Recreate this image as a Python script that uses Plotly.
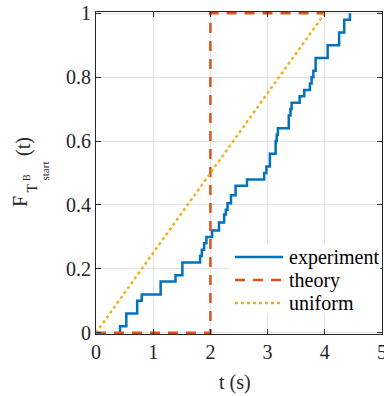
import plotly.graph_objects as go

# experiment empirical CDF (step points: time, cumulative value after step)
exp_t = [0.42, 0.42, 0.53, 0.72, 0.80, 1.13, 1.39, 1.51, 1.82, 1.85, 1.89, 1.93,
         2.03, 2.15, 2.24, 2.27, 2.30, 2.36, 2.44, 2.64, 2.94, 2.98, 3.04, 3.14,
         3.16, 3.18, 3.37, 3.40, 3.42, 3.56, 3.64, 3.74, 3.77, 3.80, 3.84, 4.05,
         4.25, 4.34, 4.44]
exp_F = [0.0, 0.02, 0.06, 0.10, 0.12, 0.16, 0.18, 0.22, 0.24, 0.26, 0.28, 0.30,
         0.32, 0.345, 0.37, 0.385, 0.405, 0.43, 0.46, 0.48, 0.50, 0.52, 0.56, 0.60,
         0.62, 0.64, 0.68, 0.70, 0.72, 0.74, 0.76, 0.78, 0.80, 0.82, 0.86, 0.90,
         0.94, 0.98, 1.00]

theory_t = [0, 2, 2, 4]
theory_F = [0, 0, 1, 1]

uniform_t = [0, 4]
uniform_F = [0, 1]

x_ticks = [0, 1, 2, 3, 4, 5]
y_ticks = [0, 0.2, 0.4, 0.6, 0.8, 1]
y_tick_labels = ["0", "0.2", "0.4", "0.6", "0.8", "1"]

series_names = ["experiment", "theory", "uniform"]
series_colors = ["#0072BD", "#D95319", "#EDB120"]
series_dash = ["solid", "10px,8px", "dot"]

FONT = "Liberation Serif, Times New Roman, serif"
AX = "#262626"

W, H = 384, 396
L, R, T, B = 96, 2, 12, 62
pw, ph = W - L - R, H - T - B


def px(xp):
    return (xp - L) / pw


def py(yp):
    return (H - B - yp) / ph


fig = go.Figure()
data = [(exp_t, exp_F, "hv"), (theory_t, theory_F, "linear"), (uniform_t, uniform_F, "linear")]
for (xs, ys, shape), name, col, dash in zip(data, series_names, series_colors, series_dash):
    fig.add_trace(go.Scatter(x=xs, y=ys, mode="lines", line_shape=shape,
                             line=dict(color=col, width=2.5, dash=dash), name=name,
                             showlegend=False))

axis_common = dict(showline=True, linecolor=AX, linewidth=1, mirror="ticks",
                   ticks="inside", ticklen=5, tickcolor=AX, showgrid=True,
                   gridcolor="#e2e2e2", gridwidth=1, zeroline=False,
                   ticklabeloverflow="allow", automargin=False,
                   tickfont=dict(family=FONT, size=20, color=AX))

fig.update_xaxes(range=[0, 5], tickvals=x_ticks, **axis_common)
fig.update_yaxes(range=[-0.004, 1.004], tickvals=y_ticks, ticktext=y_tick_labels,
                 **axis_common)

ann = []
def add(text, x, y, size):
    ann.append(dict(text=text, x=px(x), y=py(y), xref="paper", yref="paper",
                    showarrow=False, textangle=-90, xanchor="center", yanchor="middle",
                    font=dict(family=FONT, size=size, color=AX)))

add("F", 20.5, 201.5, 20)
add("T", 32.0, 188.5, 14)
add("B", 26.5, 177.5, 10)
add("start", 44.5, 171, 11)
add("(t)", 23.5, 146.5, 20)

ann.append(dict(text="t (s)", x=px(235), y=py(382), xref="paper", yref="paper",
                showarrow=False, xanchor="center", yanchor="middle",
                font=dict(family=FONT, size=20, color=AX)))

# legend (drawn as a box with sample lines and labels)
shapes = [dict(type="rect", xref="paper", yref="paper", x0=px(230), x1=px(380.5),
               y0=py(314), y1=py(244), fillcolor="white", line=dict(width=0),
               layer="above")]
leg_y = [257, 280, 303]
for yy, name, col, dash in zip(leg_y, series_names, series_colors, series_dash):
    shapes.append(dict(type="line", xref="paper", yref="paper", x0=px(235), x1=px(283),
                       y0=py(yy), y1=py(yy), line=dict(color=col, width=2.5, dash=dash),
                       layer="above"))
    ann.append(dict(text=name, x=px(287), y=py(yy), xref="paper", yref="paper",
                    showarrow=False, xanchor="left", yanchor="middle",
                    font=dict(family=FONT, size=20, color="black")))

fig.update_layout(
    width=W, height=H,
    margin=dict(l=L, r=R, t=T, b=B, pad=0, autoexpand=False),
    paper_bgcolor="white", plot_bgcolor="white",
    font=dict(family=FONT, size=20, color=AX),
    showlegend=False,
    annotations=ann,
    shapes=shapes,
)

fig.write_html("out.html")
